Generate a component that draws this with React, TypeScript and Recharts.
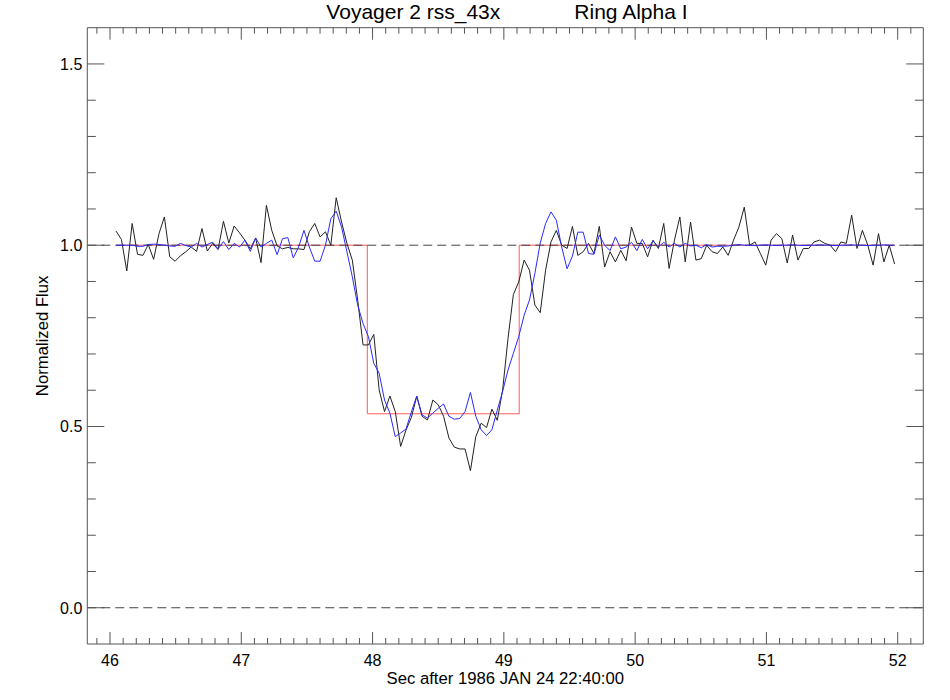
import React from "react";
import { LineChart, Line, XAxis, YAxis, ReferenceLine } from "recharts";

// ---- Data ----
const sampleStart = 46.046; // seconds
const sampleStep = 0.0409; // seconds between samples

const observedFlux = [
  1.039, 1.016, 0.929, 1.06, 0.975, 0.972, 1.002, 0.961, 1.032, 1.078,
  0.968, 0.956, 0.971, 0.982, 0.995, 0.983, 1.046, 0.984, 1.005, 0.988,
  1.066, 1.006, 1.053, 1.034, 1.014, 0.99, 1.02, 0.952, 1.11, 1.041,
  0.998, 0.99, 0.994, 0.99, 0.99, 0.988, 1.037, 1.06, 1.023, 1.037,
  1.0, 1.131, 1.064, 1.005, 0.959, 0.849, 0.725, 0.725, 0.754, 0.601,
  0.541, 0.584, 0.541, 0.445, 0.49, 0.525, 0.583, 0.528, 0.518, 0.573,
  0.56, 0.528, 0.468, 0.443, 0.438, 0.438, 0.378, 0.472, 0.509, 0.497,
  0.548, 0.517, 0.601, 0.743, 0.864, 0.899, 0.959, 0.931, 0.835, 0.814,
  0.931, 1.009, 1.041, 1.0, 0.991, 1.052, 0.972, 0.982, 1.005, 0.977,
  1.052, 0.94, 0.982, 0.954, 0.986, 0.957, 1.05, 1.005, 1.005, 0.968,
  1.014, 0.991, 1.06, 0.936, 1.014, 1.078, 0.954, 1.064, 0.959, 0.963,
  1.0, 0.982, 0.977, 0.995, 0.972, 1.014, 1.05, 1.105, 1.0, 1.009,
  0.977, 0.945, 1.014, 1.032, 1.018, 0.951, 1.028, 0.959, 0.991, 0.991,
  1.009, 1.014, 1.005, 1.0, 0.982, 1.009, 1.005, 1.083, 0.991, 1.041,
  1.0, 0.945, 1.032, 0.954, 1.0, 0.948,
];

const modelFlux = [
  1.0, 1.0, 1.0, 1.0, 0.997, 0.997, 1.002, 1.003, 1.002, 1.0,
  0.998, 0.997, 1.005, 0.999, 0.995, 1.005, 0.995, 1.002, 1.008, 0.99,
  1.01, 0.988, 1.005, 0.995, 1.014, 0.983, 1.02, 0.995, 1.005, 1.014,
  0.974, 1.018, 1.021, 0.965, 0.995, 1.041, 0.995, 0.956, 0.956, 1.0,
  1.073, 1.094, 1.05, 0.982, 0.913, 0.835, 0.784, 0.748, 0.674, 0.647,
  0.573, 0.537, 0.472, 0.482, 0.493, 0.54, 0.584, 0.532, 0.523, 0.537,
  0.55, 0.562, 0.528, 0.52, 0.522, 0.541, 0.594, 0.528, 0.491, 0.475,
  0.491, 0.545, 0.597, 0.656, 0.702, 0.748, 0.807, 0.849, 0.922, 1.006,
  1.06, 1.092, 1.069, 0.995, 0.935, 0.97, 1.036, 1.036, 0.977, 0.975,
  1.028, 1.0, 0.985, 1.023, 0.99, 0.995, 1.008, 0.985, 1.016, 0.99,
  1.012, 0.995, 1.008, 0.995, 1.005, 0.995, 1.005, 0.998, 1.0, 0.993,
  1.002, 0.995, 0.997, 0.997, 0.998, 1.0, 1.002, 1.0, 1.0, 0.999,
  1.0, 1.001, 1.0, 0.999, 1.0, 1.0, 1.001, 1.0, 0.999, 1.0,
  1.0, 1.001, 1.0, 1.0, 0.999, 1.0, 1.0, 1.001, 1.0, 1.0,
  0.999, 1.0, 1.0, 1.001, 1.0, 1.0,
];

const stepTimes = [46.046, 47.96, 47.96, 49.117, 49.117, 51.976];
const stepFlux = [1.0, 1.0, 0.535, 0.535, 1.0, 1.0];

const majorXTicks = [46, 47, 48, 49, 50, 51, 52];
const majorYTicks = [0, 0.5, 1.0, 1.5];
const referenceLevels = [0, 1];

const titleLeft = "Voyager 2 rss_43x";
const titleRight = "Ring Alpha I";
const xTitle = "Sec after 1986 JAN 24 22:40:00";
const yTitle = "Normalized Flux";

// ---- Derived tables ----
const seriesData = observedFlux.map((f, i) => ({
  t: +(sampleStart + i * sampleStep).toFixed(4),
  obs: f,
  model: modelFlux[i],
}));
const stepData = stepTimes.map((t, i) => ({ t, v: stepFlux[i] }));

const xTicks: number[] = [];
for (let k = 459; k <= 521; k++) xTicks.push(k / 10);
const yTicks: number[] = [];
for (let k = 0; k <= 15; k++) yTicks.push(k / 10);

const X_DOMAIN: [number, number] = [45.827, 52.195];
const Y_DOMAIN: [number, number] = [-0.1, 1.6];

const FONT = "'Liberation Sans', Arial, Helvetica, sans-serif";
const AXIS = "#555";

const isMajor = (v: number, majors: number[]) => majors.some((m) => Math.abs(m - v) < 1e-6);

function BottomTick(props: any) {
  const { x, y, payload } = props;
  const v = payload.value as number;
  const major = isMajor(v, majorXTicks);
  return (
    <g>
      <line x1={x} x2={x} y1={y} y2={y - (major ? 12 : 6)} stroke={AXIS} />
      {major && (
        <text x={x} y={y + 22} textAnchor="middle" fontSize={16} fontFamily={FONT} fill="#000">
          {Math.round(v)}
        </text>
      )}
    </g>
  );
}

function TopTick(props: any) {
  const { x, y, payload } = props;
  const major = isMajor(payload.value, majorXTicks);
  return <line x1={x} x2={x} y1={y} y2={y + (major ? 12 : 6)} stroke={AXIS} />;
}

function LeftTick(props: any) {
  const { x, y, payload } = props;
  const v = payload.value as number;
  const major = isMajor(v, majorYTicks);
  return (
    <g>
      <line x1={x} x2={x + (major ? 17 : 8.5)} y1={y} y2={y} stroke={AXIS} />
      {major && (
        <text x={x - 5} y={y + 6} textAnchor="end" fontSize={16} fontFamily={FONT} fill="#000">
          {v.toFixed(1)}
        </text>
      )}
    </g>
  );
}

function RightTick(props: any) {
  const { x, y, payload } = props;
  const major = isMajor(payload.value, majorYTicks);
  return <line x1={x} x2={x - (major ? 17 : 8.5)} y1={y} y2={y} stroke={AXIS} />;
}

function XTitle(props: any) {
  const vb = props.viewBox;
  return (
    <text x={vb.x + vb.width / 2} y={vb.y + 40} textAnchor="middle" fontSize={16.7} fontFamily={FONT} fill="#000">
      {xTitle}
    </text>
  );
}

function YTitle(props: any) {
  const vb = props.viewBox;
  const cx = vb.x + 20.7;
  const cy = vb.y + vb.height / 2;
  return (
    <text x={cx} y={cy} textAnchor="middle" fontSize={16.7} fontFamily={FONT} fill="#000" transform={`rotate(-90 ${cx} ${cy})`}>
      {yTitle}
    </text>
  );
}

function MainTitle(props: any) {
  const vb = props.viewBox;
  const cx = vb.x + vb.width / 2;
  const by = vb.y - 7.7;
  return (
    <g>
      <text x={cx - 5} y={by} textAnchor="end" fontSize={21} fontFamily={FONT} fill="#000">
        {titleLeft}
      </text>
      <text x={cx + 69} y={by} textAnchor="start" fontSize={21} fontFamily={FONT} fill="#000">
        {titleRight}
      </text>
    </g>
  );
}

export default function App() {
  return (
    <div style={{ position: "absolute", left: 0, top: 0, width: 950, height: 700, background: "#fff" }}>
      <LineChart
        width={950}
        height={700}
        data={seriesData}
        margin={{ top: 26.7, right: 25.7, bottom: 0, left: 27.3 }}
      >
        <XAxis
          dataKey="t"
          type="number"
          domain={X_DOMAIN}
          allowDataOverflow
          ticks={xTicks}
          interval={0}
          tickSize={0}
          tickMargin={0}
          height={56}
          tickLine={false}
          axisLine={{ stroke: AXIS }}
          tick={BottomTick}
          label={XTitle}
        />
        <XAxis
          xAxisId="top"
          orientation="top"
          dataKey="t"
          type="number"
          domain={X_DOMAIN}
          allowDataOverflow
          ticks={xTicks}
          interval={0}
          tickSize={0}
          tickMargin={0}
          height={1}
          tickLine={false}
          axisLine={{ stroke: AXIS }}
          tick={TopTick}
          label={MainTitle}
        />
        <YAxis
          type="number"
          domain={Y_DOMAIN}
          allowDataOverflow
          ticks={yTicks}
          interval={0}
          tickSize={0}
          tickMargin={0}
          width={60}
          tickLine={false}
          axisLine={{ stroke: AXIS }}
          tick={LeftTick}
          label={YTitle}
        />
        <YAxis
          yAxisId="right"
          orientation="right"
          type="number"
          domain={Y_DOMAIN}
          allowDataOverflow
          ticks={yTicks}
          interval={0}
          tickSize={0}
          tickMargin={0}
          width={1}
          tickLine={false}
          axisLine={{ stroke: AXIS }}
          tick={RightTick}
        />
        <Line
          data={stepData}
          dataKey="v"
          type="linear"
          stroke="#ff5a5a"
          strokeWidth={1}
          dot={false}
          activeDot={false}
          isAnimationActive={false}
        />
        {referenceLevels.map((lv) => (
          <ReferenceLine key={lv} y={lv} stroke="#444" strokeDasharray="9 5" />
        ))}
        <Line
          dataKey="obs"
          type="linear"
          stroke="#222"
          strokeWidth={1}
          dot={false}
          activeDot={false}
          isAnimationActive={false}
        />
        <Line
          dataKey="model"
          type="linear"
          stroke="#2a2aff"
          strokeWidth={1}
          dot={false}
          activeDot={false}
          isAnimationActive={false}
        />
      </LineChart>
    </div>
  );
}
